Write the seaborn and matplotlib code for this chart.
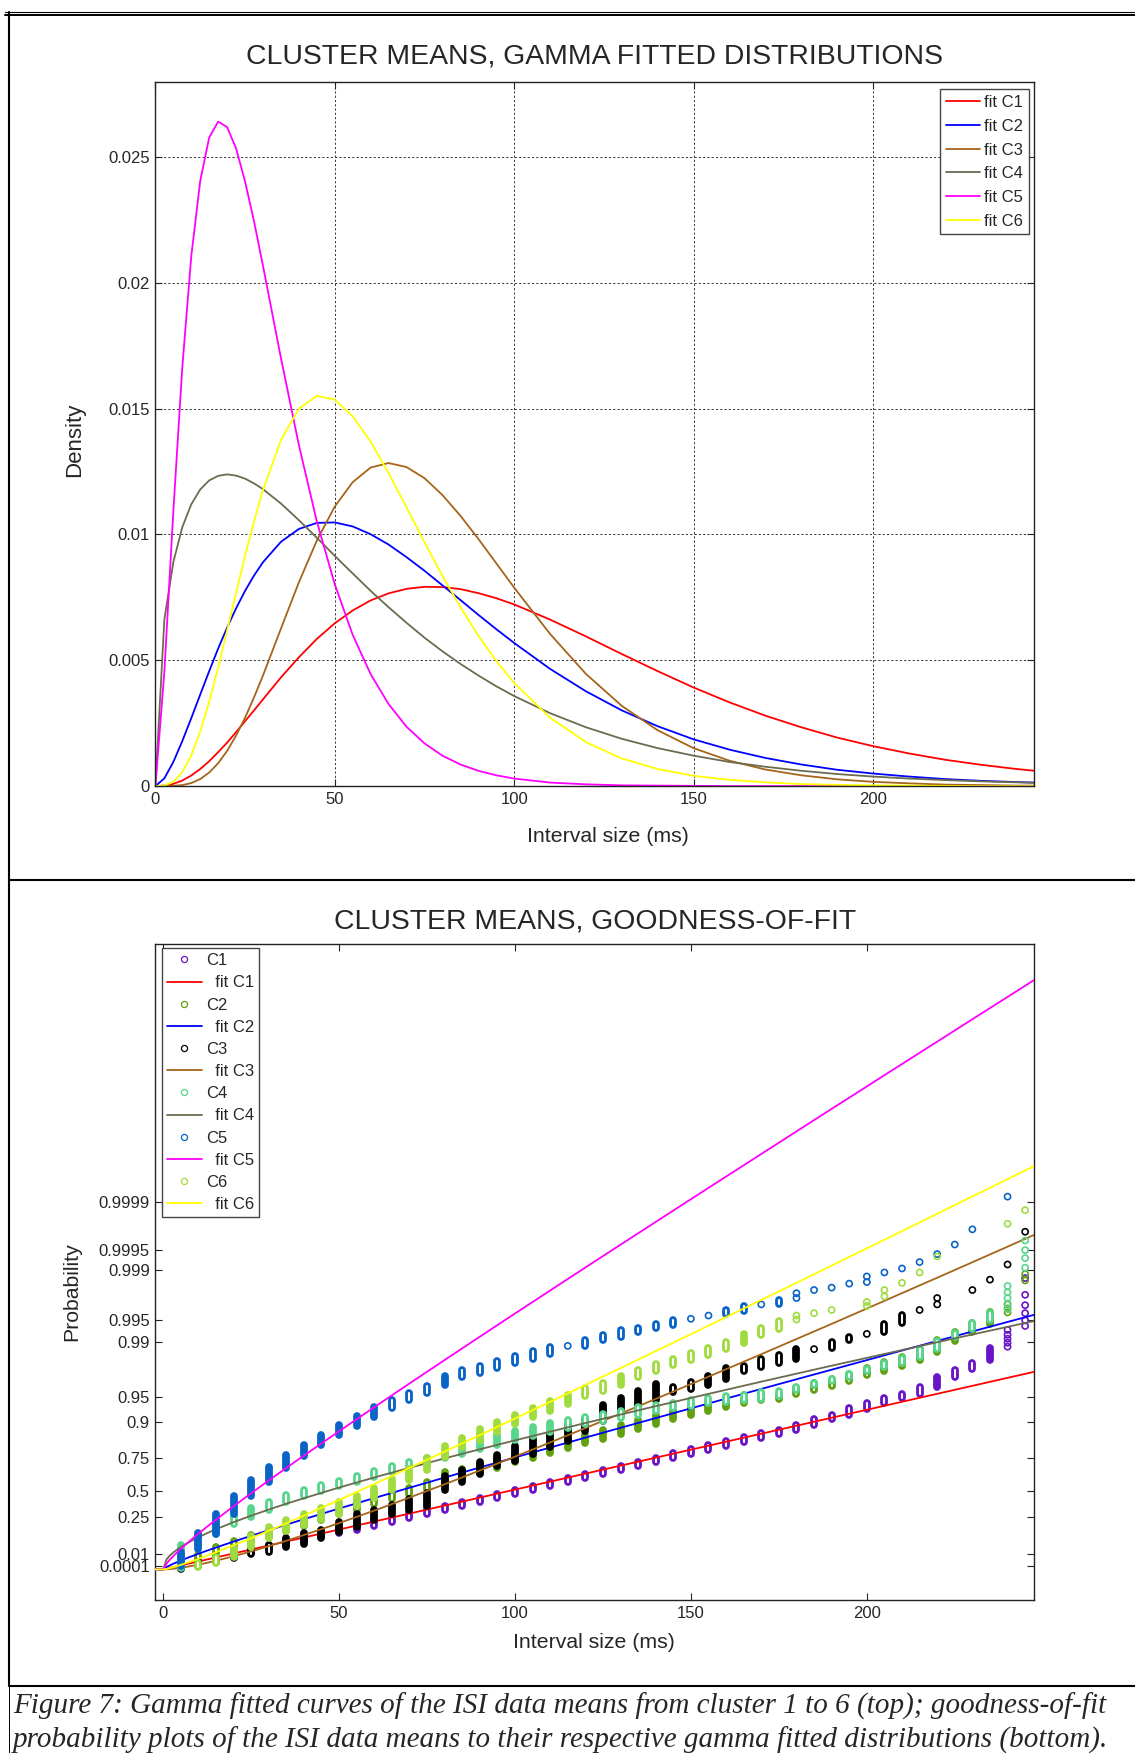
import numpy as np
import matplotlib
matplotlib.use("Agg")
import matplotlib.pyplot as plt
import seaborn as sns
from matplotlib.lines import Line2D

# ---------------- data ----------------
clusters = ["C1", "C2", "C3", "C4", "C5", "C6"]

x_top = [0, 2.5, 5, 7.5, 10, 12.5, 15, 17.5, 20, 22.5, 25, 27.5, 30, 35, 40, 45, 50, 55, 60, 65, 70, 75,
         80, 85, 90, 95, 100, 110, 120, 130, 140, 150, 160, 170, 180, 190, 200, 210, 220, 230, 240, 245]
# fitted densities, in units of 1e-5
dens_c1 = [0, 2, 9, 22, 42, 68, 99, 135, 173, 215, 258, 301, 345, 432, 512, 585, 647, 698, 738, 766, 784, 792,
           791, 783, 767, 747, 722, 662, 595, 525, 457, 392, 333, 280, 234, 193, 159, 130, 105, 85, 68, 61]
dens_c2 = [0, 31, 96, 179, 270, 364, 457, 547, 630, 707, 776, 837, 890, 971, 1022, 1046, 1048, 1032, 1001, 960,
           910, 856, 798, 740, 681, 624, 569, 466, 377, 301, 238, 186, 145, 112, 86, 65, 50, 38, 28, 21, 16, 14]
dens_c3 = [0, 0, 1, 4, 12, 28, 54, 91, 140, 201, 272, 353, 440, 626, 810, 976, 1111, 1208, 1266, 1284, 1268,
           1224, 1157, 1075, 983, 886, 789, 605, 446, 319, 222, 151, 101, 66, 43, 27, 17, 11, 6, 4, 2, 2]
dens_c4 = [0, 662, 890, 1029, 1120, 1179, 1215, 1233, 1239, 1234, 1222, 1203, 1180, 1123, 1057, 987, 915, 845,
           776, 711, 649, 590, 536, 486, 440, 397, 358, 290, 234, 188, 151, 121, 96, 77, 61, 48, 38, 30, 24,
           19, 15, 13]
dens_c5 = [0, 455, 1092, 1665, 2106, 2406, 2578, 2641, 2619, 2534, 2403, 2244, 2067, 1701, 1355, 1052, 802, 601,
           445, 326, 236, 170, 121, 86, 61, 43, 30, 14, 7, 3, 2, 1, 0, 0, 0, 0, 0, 0, 0, 0, 0, 0]
dens_c6 = [0, 2, 17, 55, 122, 217, 336, 472, 619, 768, 915, 1052, 1177, 1376, 1500, 1551, 1536, 1470, 1369,
           1244, 1108, 970, 836, 712, 598, 498, 410, 272, 175, 110, 68, 41, 25, 15, 8, 5, 3, 2, 1, 0, 0, 0]

# probability-plot positions of the fitted CDFs (axis unit: C1 gamma quantile)
x_fit = [-2.2, 0, 1, 2, 3, 5, 7.5, 10, 12.5, 15, 20, 25, 30, 35, 40, 50, 60, 70, 80, 90, 100, 110, 120,
         130, 140, 150, 160, 170, 180, 190, 200, 210, 220, 230, 240, 247.6]
pp_c1 = [0, 0, 1, 2, 3, 5, 7.5, 10, 12.5, 15, 20, 25, 30, 35, 40, 50, 60, 70, 80, 90, 100, 110, 120,
         130, 140, 150, 160, 170, 180, 190, 200, 210, 220, 230, 240, 247.6]
pp_c2 = [0, 0.0, 3.1, 5.3, 7.4, 11.1, 15.5, 19.6, 23.6, 27.4, 34.9, 42.1, 49.2, 56.1, 62.9, 76.3, 89.4, 102.3,
         115.1, 127.7, 140.3, 152.7, 165.1, 177.4, 189.6, 201.8, 214.0, 226.1, 238.2, 250.2, 262.2, 274.2,
         286.2, 298.1, 310.0, 319.0]
pp_c3 = [0, 0.0, 0.2, 0.5, 1.0, 2.1, 3.9, 6.0, 8.3, 10.9, 16.5, 22.6, 29.1, 35.9, 43.1, 58.0, 73.7, 90.0,
         106.7, 123.9, 141.3, 159.1, 177.0, 195.2, 213.6, 232.1, 250.8, 269.6, 288.6, 307.6, 326.8, 346.1,
         365.4, 384.8, 404.3, 419.2]
pp_c4 = [0, 0.0, 12.7, 17.8, 21.7, 28.0, 34.6, 40.3, 45.5, 50.3, 59.2, 67.3, 75.0, 82.3, 89.2, 102.6, 115.2,
         127.3, 139.1, 150.5, 161.7, 172.6, 183.4, 194.0, 204.5, 214.8, 225.0, 235.2, 245.2, 255.2, 265.0,
         274.8, 284.6, 294.3, 303.9, 311.2]
pp_c5 = [0, 0.0, 7.4, 12.6, 17.2, 25.7, 35.4, 44.7, 53.6, 62.3, 79.1, 95.4, 111.4, 127.1, 142.6, 173.1, 203.2,
         232.9, 262.3, 291.5, 320.6, 349.4, 378.2, 406.8, 435.3, 463.8, 492.1, 520.4, 548.7, 576.9, 605.0,
         633.1, 661.1, 689.2, 717.1, 738.4]
pp_c6 = [0, 0.0, 0.8, 1.8, 3.0, 5.7, 9.3, 13.2, 17.3, 21.5, 30.2, 39.2, 48.5, 57.9, 67.5, 87.1, 107.0, 127.2,
         147.7, 168.3, 189.1, 210.0, 231.1, 252.2, 273.4, 294.7, 316.1, 337.6, 359.0, 380.6, 402.2, 423.8,
         445.5, 467.2, 488.9, 505.5]

prob_labels = ["0.0001", "0.01", "0.25", "0.5", "0.75", "0.9", "0.95", "0.99", "0.995", "0.999", "0.9995", "0.9999"]
prob_pos = [4.6, 19.1, 65.5, 97.7, 139.2, 185.1, 216.6, 284.5, 312.3, 374.6, 400.7, 460.1]

# empirical points: interval (x) and lowest / highest plotting position of the tied points
c1_x = list(range(5, 240, 5)) + [240] * 5 + [245] * 6
c1_lo = [2, 7, 12, 16, 21, 25, 31, 36, 41, 46, 50, 55, 60, 65, 70, 74, 79, 84, 89, 94, 99, 104, 109, 114, 119,
         124, 129, 134, 139, 145, 150, 155, 160, 165, 170, 175, 181, 188, 193, 201, 208, 215, 220, 229, 241,
         251, 262, 279, 284, 289, 294, 300, 305, 312, 321, 331, 344, 365]
c1_hi = [6, 11, 16, 21, 26, 31, 37, 42, 47, 52, 56, 61, 66, 71, 77, 80, 85, 90, 95, 100, 105, 110, 115, 120,
         125, 130, 135, 140, 146, 151, 156, 161, 166, 171, 175, 181, 188, 194, 202, 208, 215, 220, 229, 241,
         250, 259, 277, 279, 284, 289, 294, 300, 305, 312, 321, 331, 344, 365]
c2_x = list(range(5, 240, 5)) + [240] * 3 + [245] * 2
c2_lo = [6, 12, 20, 27, 34, 41, 48, 55, 62, 69, 75, 82, 88, 95, 101, 108, 114, 121, 127, 134, 140, 146, 152,
         158, 164, 170, 176, 182, 188, 194, 199, 204, 208, 212, 214, 220, 225, 230, 236, 243, 249, 255, 262,
         272, 286, 297, 308, 322, 327, 332, 362, 370]
c2_hi = [11, 18, 28, 36, 43, 50, 57, 63, 70, 77, 83, 90, 96, 102, 109, 122, 126, 132, 138, 145, 151, 157, 163,
         169, 175, 181, 187, 193, 199, 205, 210, 215, 218, 221, 220, 227, 233, 239, 245, 252, 260, 266, 276,
         287, 298, 309, 322, 322, 327, 332, 362, 370]
c3_x = list(range(5, 220, 5)) + [220, 220, 230, 235, 240, 245]
c3_lo = [1, 4, 9, 14, 19, 22, 28, 32, 39, 47, 53, 62, 70, 74, 80, 100, 110, 120, 129, 136, 145, 153, 161, 173,
         186, 194, 204, 212, 222, 226, 231, 239, 248, 253, 258, 263, 276, 277, 287, 295, 298, 309, 325, 332,
         340, 350, 363, 382, 423]
c3_hi = [4, 9, 15, 20, 26, 31, 39, 46, 50, 60, 69, 75, 81, 88, 96, 117, 125, 134, 143, 155, 164, 171, 181, 189,
         206, 215, 224, 232, 228, 235, 242, 252, 255, 263, 268, 276, 276, 285, 291, 295, 307, 319, 325, 332,
         340, 350, 363, 382, 423]
c4_x = list(range(5, 240, 5)) + [240] * 5 + [245] * 4
c4_lo = [2, 30, 45, 57, 66, 75, 84, 92, 98, 104, 110, 116, 122, 127, 132, 139, 145, 151, 156, 162, 167, 172,
         177, 182, 186, 190, 194, 198, 202, 205, 208, 210, 212, 214, 217, 225, 231, 236, 241, 248, 253, 259,
         266, 276, 291, 301, 312, 326, 333, 340, 347, 355, 378, 390, 400, 412]
c4_hi = [30, 45, 57, 67, 77, 85, 93, 100, 106, 111, 117, 123, 129, 134, 139, 148, 158, 163, 168, 173, 178, 183,
         187, 191, 195, 199, 203, 206, 209, 212, 215, 217, 219, 222, 224, 229, 234, 239, 245, 251, 259, 265,
         276, 286, 296, 309, 321, 326, 333, 340, 347, 355, 378, 390, 400, 412]
c5_x = list(range(5, 180, 5)) + [180, 180, 185, 190, 195, 200, 200, 205, 210, 215, 220, 225, 230, 240]
c5_lo = [4, 26, 45, 70, 92, 110, 127, 142, 156, 168, 180, 191, 202, 212, 221, 231, 241, 246, 252, 258, 264,
         270, 280, 280, 287, 291, 297, 302, 306, 314, 318, 320, 324, 332, 333, 340, 346, 350, 353, 358, 360,
         367, 372, 377, 385, 395, 407, 426, 467]
c5_hi = [22, 46, 70, 92, 112, 128, 143, 156, 169, 181, 192, 203, 212, 221, 230, 242, 250, 255, 261, 267, 273,
         279, 280, 288, 294, 300, 303, 308, 312, 314, 318, 325, 330, 332, 337, 340, 346, 350, 353, 358, 360,
         367, 372, 377, 385, 395, 407, 426, 467]
c6_x = list(range(10, 180, 5)) + [180, 180, 185, 190, 200, 200, 205, 205, 210, 215, 220, 240, 245]
c6_lo = [3, 8, 15, 28, 39, 48, 56, 63, 70, 80, 90, 100, 112, 125, 141, 153, 162, 172, 182, 191, 199, 207, 217,
         224, 231, 241, 248, 256, 262, 269, 276, 284, 294, 301, 313, 318, 321, 325, 330, 335, 342, 350, 359,
         372, 392, 433, 450]
c6_hi = [8, 16, 27, 42, 53, 62, 69, 77, 85, 92, 102, 113, 126, 139, 155, 165, 176, 185, 194, 202, 211, 219, 227,
         234, 242, 250, 257, 264, 271, 277, 285, 295, 302, 311, 313, 318, 321, 325, 330, 335, 342, 350, 359,
         372, 392, 433, 450]

line_colors = ["#ff0000", "#0000ff", "#a5651a", "#6b6b50", "#ff00ff", "#ffff00"]
point_colors = ["#6a14c8", "#62a010", "#000000", "#58d68d", "#0a64c8", "#a0dc40"]

# ---------------- figure ----------------
sns.set_theme(style="ticks")
plt.rcParams["font.family"] = ["Liberation Sans", "DejaVu Sans"]
W, H = 1135, 1753
fig = plt.figure(figsize=(W / 100, H / 100), dpi=100)
ax1 = fig.add_axes([155.4 / W, 1 - 786.1 / H, (1034.3 - 155.4) / W, (786.1 - 81.6) / H])
ax2 = fig.add_axes([155.4 / W, 1 - 1600.1 / H, (1034.3 - 155.4) / W, (1600.1 - 943.7) / H])

dens = [dens_c1, dens_c2, dens_c3, dens_c4, dens_c5, dens_c6]
for c, d, col in zip(clusters, dens, line_colors):
    sns.lineplot(x=x_top, y=np.asarray(d) * 1e-5, color=col, lw=1.3, ax=ax1, label="fit " + c)

OUT_D, IN_D, RING_LW = 5.6, 1.5, 1.2


def draw_points(ax, xs, lo, hi, col, z):
    xs, lo, hi = np.asarray(xs, float), np.asarray(lo, float), np.asarray(hi, float)
    span = hi - lo
    single = span == 0
    short = (span > 0) & (span <= 10)
    tall = span > 10
    for mask, c, w in ((tall, col, OUT_D), (short, col, OUT_D), (short, "white", IN_D)):
        if mask.any():
            lc = ax.vlines(xs[mask], lo[mask], hi[mask], colors=c, lw=w, zorder=z)
            lc.set_capstyle("round")
    if single.any():
        sns.scatterplot(x=xs[single], y=lo[single], marker="o", s=(OUT_D - RING_LW) ** 2, color=col,
                        facecolor="none", edgecolor=col, linewidth=RING_LW, ax=ax, zorder=z, legend=False)


pts = [(c1_x, c1_lo, c1_hi), (c2_x, c2_lo, c2_hi), (c3_x, c3_lo, c3_hi), (c4_x, c4_lo, c4_hi),
       (c5_x, c5_lo, c5_hi), (c6_x, c6_lo, c6_hi)]
fits = [pp_c1, pp_c2, pp_c3, pp_c4, pp_c5, pp_c6]
for i, ((px, plo, phi), f) in enumerate(zip(pts, fits)):
    draw_points(ax2, px, plo, phi, point_colors[i], 2 + 2 * i)
    sns.lineplot(x=x_fit, y=f, color=line_colors[i], lw=1.3, ax=ax2, zorder=3 + 2 * i)

for ax in (ax1, ax2):
    ax.tick_params(direction="in", length=5, width=0.8, top=True, right=True, labelsize=12, pad=4,
                   color="#222")
    for s in ax.spines.values():
        s.set_color("#222"); s.set_linewidth(1.0)
ax1.set_xlim(0, 245); ax1.set_ylim(0, 0.028)
ax1.set_xticks([0, 50, 100, 150, 200])
ax1.set_yticks([0, 0.005, 0.01, 0.015, 0.02, 0.025], ["0", "0.005", "0.01", "0.015", "0.02", "0.025"])
ax1.grid(True, color="#333", ls=(0, (2.2, 2.2)), lw=0.7)
ax2.set_xlim(-2.2, 247.6); ax2.set_ylim(-38.4, 783.8)
ax2.set_xticks([0, 50, 100, 150, 200])
ax2.set_yticks(prob_pos, prob_labels)

ax1.set_title("CLUSTER MEANS, GAMMA FITTED DISTRIBUTIONS", fontsize=20.4, pad=12.9)
ax2.set_title("CLUSTER MEANS, GOODNESS-OF-FIT", fontsize=20.4, pad=11.3)
ax1.set_xlabel("Interval size (ms)", fontsize=15.3); ax1.xaxis.set_label_coords(0.515, -0.0714)
ax2.set_xlabel("Interval size (ms)", fontsize=15.3); ax2.xaxis.set_label_coords(0.499, -0.0648)
ax1.set_ylabel("Density", fontsize=16); ax1.yaxis.set_label_coords(-0.0916, 0.492)
ax2.set_ylabel("Probability", fontsize=15.3); ax2.yaxis.set_label_coords(-0.0953, 0.470)
for lab in (ax1.xaxis.label, ax2.xaxis.label, ax1.yaxis.label, ax2.yaxis.label):
    lab.set_va("center")

ax1.legend(loc="upper right", bbox_to_anchor=(0.9935, 0.9888), borderaxespad=0, fontsize=12,
           handlelength=2.0, handletextpad=0.25, labelspacing=0.52, borderpad=0.35, fancybox=False,
           edgecolor="#444", framealpha=1)
hs, ls = [], []
for i, c in enumerate(clusters):
    hs.append(Line2D([], [], marker="o", ls="none", mfc="none", mec=point_colors[i], ms=4.4, mew=0.9))
    ls.append(c)
    hs.append(Line2D([], [], color=line_colors[i], lw=1.3))
    ls.append("  fit " + c)
leg2 = ax2.legend(hs, ls, loc="upper left", bbox_to_anchor=(0.0072, 0.993), borderaxespad=0, fontsize=12,
                  handlelength=2.1, handletextpad=0.25, labelspacing=0.43, borderpad=0.3, fancybox=False,
                  edgecolor="#444", framealpha=1)
leg2.set_zorder(30)


def fline(x0, y0, x1, y1, lw):
    fig.add_artist(Line2D([x0 / W, x1 / W], [1 - y0 / H, 1 - y1 / H], color="black", lw=lw,
                          transform=fig.transFigure))


fline(5, 11.5, W, 11.5, 0.8)
fline(5, 14.5, W, 14.5, 1.4)
fline(9, 12, 9, 1686, 1.5)
fline(9, 880, W, 880, 1.5)
fline(9, 1686, W, 1686, 1.5)
fline(9, 1686, 9, H, 0.7)
fig.text(13 / W, 1 - 1706 / H, "Figure 7: Gamma fitted curves of the ISI data means from cluster 1 to 6 (top); goodness-of-fit",
         family="Liberation Serif", style="italic", fontsize=21, va="center")
fig.text(13 / W, 1 - 1740 / H, "probability plots of the ISI data means to their respective gamma fitted distributions (bottom).",
         family="Liberation Serif", style="italic", fontsize=21, va="center")

fig.savefig("out.png", dpi=100)
